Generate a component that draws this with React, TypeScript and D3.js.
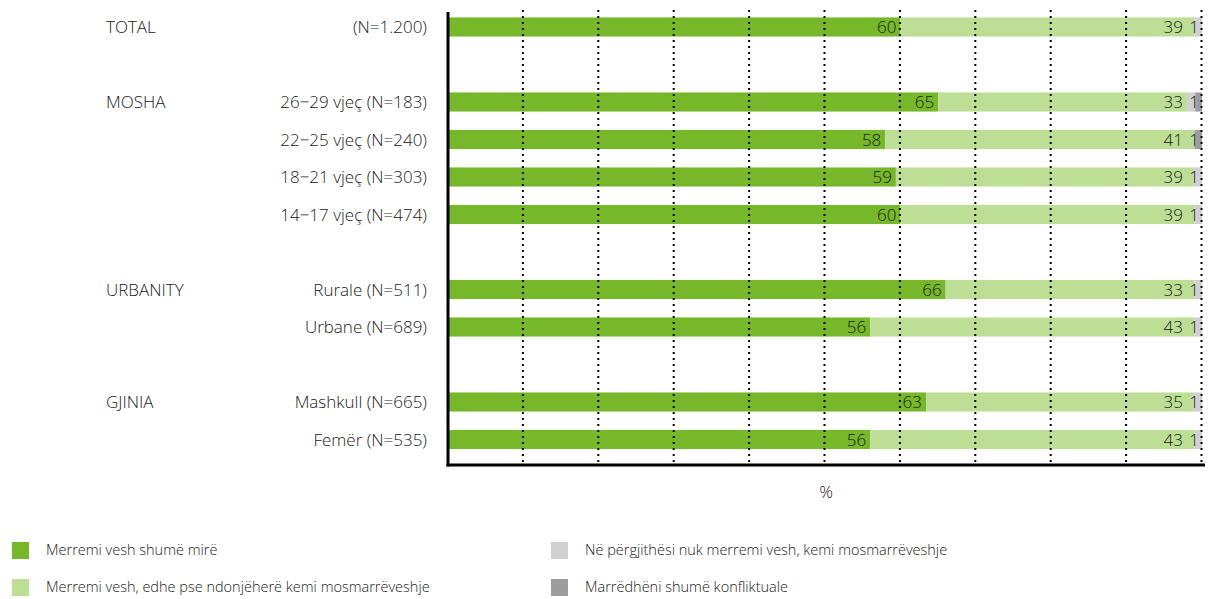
import React, { useEffect, useRef } from 'react';
import * as d3 from 'd3';

// chart values
const groupLabels = ['TOTAL', 'MOSHA', '', '', '', 'URBANITY', '', 'GJINIA', ''];
const categories = [
  '(N=1.200)',
  '26−29 vjeç (N=183)',
  '22−25 vjeç (N=240)',
  '18−21 vjeç (N=303)',
  '14−17 vjeç (N=474)',
  'Rurale (N=511)',
  'Urbane (N=689)',
  'Mashkull (N=665)',
  'Femër (N=535)',
];
const veryGood = [60, 65, 58, 59.4, 60, 66, 56, 63.4, 56];
const goodSomeDisagree = [39, 33, 41, 39.4, 39, 33, 43, 35.4, 43];
const generallyDisagree = [1, 1.1, 0, 1.2, 1, 1, 1, 1.2, 1];
const veryConflictual = [0, 0.9, 1, 0, 0, 0, 0, 0, 0];
const xTicks = [0, 10, 20, 30, 40, 50, 60, 70, 80, 90, 100];

const seriesNames = [
  'Merremi vesh shumë mirë',
  'Merremi vesh, edhe pse ndonjëherë kemi mosmarrëveshje',
  'Në përgjithësi nuk merremi vesh, kemi mosmarrëveshje',
  'Marrëdhëni shumë konfliktuale',
];
const seriesColors = ['#76b82a', '#bddf95', '#d0d0d0', '#9d9d9d'];

const font = "'Open Sans', 'Noto Sans', sans-serif";
const textColor = '#1a1a1a';

export default function App() {
  const svgRef = useRef<SVGSVGElement>(null);

  useEffect(() => {
    if (!svgRef.current) return;
    const svg = d3.select(svgRef.current);
    svg.selectAll('*').remove();

    const left = 448, right = 1202, top = 8.25, bottom = 458.25, axisY = 465;

    // slot keys: a blank slot before every new group
    const slots: string[] = [];
    categories.forEach((c, i) => {
      if (i > 0 && groupLabels[i]) slots.push('gap' + i);
      slots.push(c);
    });

    const x = d3.scaleLinear().domain([0, 100]).range([left, right]);
    const y = d3.scaleBand().domain(slots).range([top, bottom]).paddingInner(0.49).paddingOuter(0.245);

    const series = [veryGood, goodSomeDisagree, generallyDisagree, veryConflictual];
    const rows = categories.map((c, i) => {
      let acc = 0;
      const segs = series.map((s, k) => {
        const seg = { k, x0: acc, x1: acc + s[i], v: s[i] };
        acc += s[i];
        return seg;
      });
      return { c, g: groupLabels[i], segs };
    });

    const rowG = svg.append('g')
      .selectAll('g')
      .data(rows)
      .enter()
      .append('g')
      .attr('transform', d => `translate(0,${y(d.c)})`);

    rowG.selectAll('rect')
      .data(d => d.segs.filter(s => s.v > 0))
      .enter()
      .append('rect')
      .attr('x', s => x(s.x0))
      .attr('width', s => x(s.x1) - x(s.x0))
      .attr('height', y.bandwidth())
      .attr('fill', s => seriesColors[s.k]);

    // dotted gridlines on top of the bars
    svg.append('g')
      .selectAll('line')
      .data(xTicks.slice(1))
      .enter()
      .append('line')
      .attr('x1', d => x(d) - 0.5)
      .attr('x2', d => x(d) - 0.5)
      .attr('y1', 10)
      .attr('y2', axisY)
      .attr('stroke', '#000')
      .attr('stroke-width', 2)
      .attr('stroke-dasharray', '2,4');

    // value labels
    rowG.selectAll('text.val')
      .data(d => d.segs.filter(s => s.v >= 0.95))
      .enter()
      .append('text')
      .attr('class', 'val')
      .attr('x', s => {
        if (s.k === 0) return x(s.x1) - 4;
        if (s.k === 1) return Math.min(x(s.x1), x(98)) - 4;
        return x(100) - 3;
      })
      .attr('y', y.bandwidth() / 2 + 6)
      .attr('text-anchor', 'end')
      .attr('font-family', font)
      .attr('font-size', 17)
      .attr('font-weight', 300)
      .attr('fill', textColor)
      .text(s => Math.round(s.v));

    // category labels
    rowG.append('text')
      .attr('x', 427)
      .attr('y', y.bandwidth() / 2 + 6)
      .attr('text-anchor', 'end')
      .attr('font-family', font)
      .attr('font-size', 17)
      .attr('font-weight', 300)
      .attr('fill', textColor)
      .text(d => d.c);

    rowG.filter(d => !!d.g)
      .append('text')
      .attr('x', 106)
      .attr('y', y.bandwidth() / 2 + 6)
      .attr('font-family', font)
      .attr('font-size', 17)
      .attr('font-weight', 300)
      .attr('fill', textColor)
      .text(d => d.g);

    // axes
    svg.append('line')
      .attr('x1', left).attr('x2', left)
      .attr('y1', 12).attr('y2', axisY + 1.5)
      .attr('stroke', '#000').attr('stroke-width', 3);
    svg.append('line')
      .attr('x1', left - 1.5).attr('x2', 1205)
      .attr('y1', axisY).attr('y2', axisY)
      .attr('stroke', '#000').attr('stroke-width', 3);

    svg.append('text')
      .attr('x', x(50) + 1)
      .attr('y', 498)
      .attr('text-anchor', 'middle')
      .attr('font-family', font)
      .attr('font-size', 17)
      .attr('font-weight', 300)
      .attr('fill', textColor)
      .text('%');

    // legend, two columns
    const legend = svg.append('g')
      .selectAll('g')
      .data(seriesNames)
      .enter()
      .append('g')
      .attr('transform', (d, i) => `translate(${i < 2 ? 12 : 551},${i % 2 === 0 ? 542 : 579})`);

    legend.append('rect')
      .attr('width', 17)
      .attr('height', 17)
      .attr('fill', (d, i) => seriesColors[i]);

    legend.append('text')
      .attr('x', 34)
      .attr('y', 13)
      .attr('font-family', font)
      .attr('font-size', 14.5)
      .attr('font-weight', 300)
      .attr('fill', textColor)
      .text(d => d);
  }, []);

  return (
    <svg
      ref={svgRef}
      width={1214}
      height={599}
      style={{ position: 'absolute', left: 0, top: 0, background: '#fff' }}
    />
  );
}
